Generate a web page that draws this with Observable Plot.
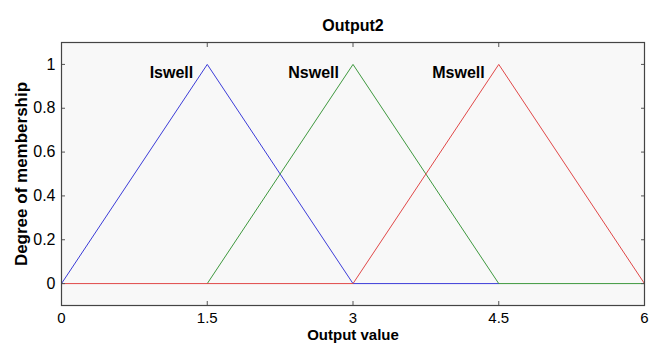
<!DOCTYPE html>
<html>
<head>
<meta charset="utf-8">
<script src="https://cdn.jsdelivr.net/npm/d3@7"></script>
<script src="https://cdn.jsdelivr.net/npm/@observablehq/plot@0.6"></script>
<style>
  html, body { margin: 0; padding: 0; background: #ffffff; }
  #chart svg { display: block; }
</style>
</head>
<body>
<div id="chart"></div>
<script>
// Membership functions (vertices as drawn)
const seriesNames = ["Iswell", "Nswell", "Mswell"];
const iswellX = [0, 1.5, 3, 4.5];
const iswellY = [0, 1, 0, 0];
const nswellX = [1.5, 3, 4.5, 6];
const nswellY = [0, 1, 0, 0];
const mswellX = [0, 3, 4.5, 6];
const mswellY = [0, 0, 1, 0];
const peaks = [1.5, 3, 4.5];
const xTicks = [0, 1.5, 3, 4.5, 6];
const yTicks = [0, 0.2, 0.4, 0.6, 0.8, 1];
const colors = ["#3c3cd8", "#3e983e", "#e04848"];

const toRows = (name, xs, ys) => xs.map((x, i) => ({name, x, y: ys[i]}));
const rows = [
  ...toRows("Iswell", iswellX, iswellY),
  ...toRows("Nswell", nswellX, nswellY),
  ...toRows("Mswell", mswellX, mswellY)
];
const labels = seriesNames.map((name, i) => ({name, x: peaks[i], y: 0.96}));

const font = "'Liberation Sans', Arial, sans-serif";
const fmt = d => String(d);

const plot = Plot.plot({
  width: 649,
  height: 344,
  marginLeft: 61,
  marginRight: 5,
  marginTop: 42,
  marginBottom: 39,
  style: {fontFamily: font, fontSize: "15px", background: "#ffffff", color: "#000"},
  x: {domain: [0, 6]},
  y: {domain: [-0.1, 1.1]},
  color: {domain: seriesNames, range: colors},
  marks: [
    Plot.frame({fill: "#f8f8f8", stroke: "none"}),
    Plot.line(rows, {x: "x", y: "y", z: "name", stroke: "name", strokeWidth: 1}),
    Plot.text(labels, {x: "x", y: "y", text: "name", textAnchor: "end", dx: -14, fontWeight: "bold", fontSize: 16}),
    Plot.axisX(xTicks, {anchor: "bottom", tickSize: -4, stroke: "#555", tickPadding: 11, fontSize: 15, tickFormat: fmt, label: null}),
    Plot.axisX(xTicks, {anchor: "top", tickSize: -4, stroke: "#555", text: null, label: null}),
    Plot.axisY(yTicks, {anchor: "left", tickSize: -4, stroke: "#555", tickPadding: 10, fontSize: 16, tickFormat: fmt, label: null}),
    Plot.axisY(yTicks, {anchor: "right", tickSize: -4, stroke: "#555", text: null, label: null}),
    Plot.frame({stroke: "#444", strokeWidth: 1.2}),
    Plot.text(["Output2"], {frameAnchor: "top", dy: -23, fontWeight: "bold", fontSize: 16}),
    Plot.text(["Output value"], {frameAnchor: "bottom", dy: 34, fontWeight: "bold", fontSize: 15}),
    Plot.text(["Degree of membership"], {frameAnchor: "left", dx: -40, rotate: -90, textAnchor: "middle", fontWeight: "bold", fontSize: 17})
  ]
});
document.getElementById("chart").appendChild(plot);
</script>
</body>
</html>
